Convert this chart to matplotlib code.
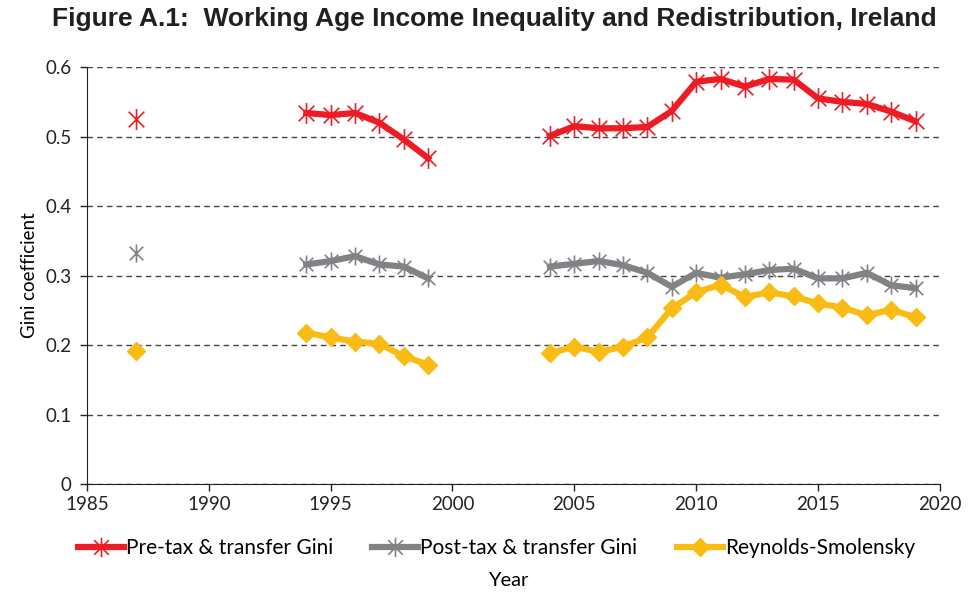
import numpy as np
import matplotlib
matplotlib.use("Agg")
import matplotlib.pyplot as plt
from matplotlib.path import Path
from matplotlib.lines import Line2D

# data
years_early = [1994, 1995, 1996, 1997, 1998, 1999]
years_late = list(range(2004, 2020))

pre_1987 = 0.525
post_1987 = 0.333
rs_1987 = 0.191

pre_early = [0.534, 0.531, 0.534, 0.520, 0.496, 0.469]
post_early = [0.316, 0.321, 0.328, 0.316, 0.313, 0.296]
rs_early = [0.218, 0.211, 0.205, 0.202, 0.184, 0.172]

pre_late = [0.501, 0.515, 0.512, 0.512, 0.514, 0.537, 0.579, 0.583, 0.572, 0.583,
            0.582, 0.555, 0.550, 0.547, 0.536, 0.522]
post_late = [0.313, 0.317, 0.321, 0.315, 0.304, 0.284, 0.304, 0.297, 0.302, 0.308,
             0.310, 0.296, 0.296, 0.304, 0.286, 0.282]
rs_late = [0.188, 0.198, 0.190, 0.198, 0.211, 0.253, 0.276, 0.287, 0.269, 0.276,
           0.270, 0.260, 0.254, 0.243, 0.251, 0.240]

labels = ["Pre-tax & transfer Gini", "Post-tax & transfer Gini", "Reynolds-Smolensky"]
colors = ["#ED1C24", "#808285", "#F9BC15"]

plt.rcParams['font.family'] = ['Lato', 'DejaVu Sans']

# excel style star marker
star = Path([(0, -1), (0, 1), (-0.75, -0.75), (0.75, 0.75), (-0.75, 0.75), (0.75, -0.75)],
            [Path.MOVETO, Path.LINETO, Path.MOVETO, Path.LINETO, Path.MOVETO, Path.LINETO])

fig = plt.figure(figsize=(9.77, 5.94), dpi=100)
ax = fig.add_axes([0.089, 0.185, 0.873, 0.702])

lw = 4.5
# pre-tax
ax.plot([1987], [pre_1987], marker=star, ms=15, mew=1.2, color=colors[0], ls='none')
for xs, ys in [(years_early, pre_early), (years_late, pre_late)]:
    ax.plot(xs, ys, color=colors[0], lw=lw, marker=star, ms=15, mew=1.2, zorder=3)
# post-tax
ax.plot([1987], [post_1987], marker=star, ms=13, mew=1.2, color=colors[1], ls='none')
for xs, ys in [(years_early, post_early), (years_late, post_late)]:
    ax.plot(xs, ys, color=colors[1], lw=lw, marker=star, ms=13, mew=1.2, zorder=3)
# RS
ax.plot([1987], [rs_1987], marker='D', ms=9, color=colors[2], mec=colors[2], ls='none')
for xs, ys in [(years_early, rs_early), (years_late, rs_late)]:
    ax.plot(xs, ys, color=colors[2], lw=lw, marker='D', ms=9, mec=colors[2], zorder=3)

ax.set_xlim(1985, 2020)
ax.set_ylim(0, 0.6)
ax.set_xticks(range(1985, 2021, 5))
ax.set_yticks(np.arange(0, 0.61, 0.1))
ax.set_yticklabels(["0", "0.1", "0.2", "0.3", "0.4", "0.5", "0.6"])
ax.tick_params(labelsize=13.5, length=5, width=1, colors='#222222', direction='out')
ax.tick_params(axis='y', pad=6)
ax.yaxis.grid(True, ls=(0, (4, 3)), color='#444444', lw=1)
ax.set_axisbelow(True)
for s in ['top', 'right']:
    ax.spines[s].set_visible(False)
ax.spines['left'].set_color('#222222')
ax.spines['bottom'].set_color('#222222')
ax.set_ylabel("Gini coefficient", fontsize=13.5, labelpad=5)

fig.text(0.506, 0.968, "Figure A.1:  Working Age Income Inequality and Redistribution, Ireland",
         ha='center', va='center', fontsize=19, fontweight='bold', family='Liberation Sans',
         color='#231F20')

handles = [
    Line2D([], [], color=colors[0], lw=lw, marker=star, ms=14, mew=1.2),
    Line2D([], [], color=colors[1], lw=lw, marker=star, ms=14, mew=1.2),
    Line2D([], [], color=colors[2], lw=lw, marker='D', ms=9),
]
fig.legend(handles, labels, loc='center', bbox_to_anchor=(0.508, 0.077), ncol=3,
           frameon=False, fontsize=15, handlelength=2.2, handletextpad=0.1,
           columnspacing=1.9)
fig.text(0.52, 0.022, "Year", ha='center', va='center', fontsize=14.5)

fig.savefig("out.png", dpi=100)
